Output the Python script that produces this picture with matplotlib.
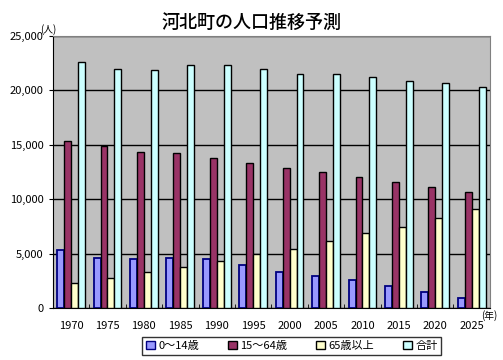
import matplotlib.pyplot as plt
import matplotlib.patches as mpatches
import numpy as np

plt.rcParams['font.family'] = ['Noto Sans CJK JP', 'DejaVu Sans']

years = ['1970', '1975', '1980', '1985', '1990', '1995', '2000', '2005',
         '2010', '2015', '2020', '2025']
age_0_14 = [5330, 4570, 4470, 4570, 4470, 3920, 3280, 3000, 2570, 2080, 1440, 890]
age_15_64 = [15350, 14890, 14310, 14220, 13800, 13300, 12840, 12470, 12040, 11550, 11100, 10630]
age_65 = [2270, 2730, 3280, 3740, 4300, 4960, 5480, 6160, 6900, 7500, 8240, 9070]
total = [22580, 21940, 21850, 22330, 22300, 21940, 21480, 21480, 21200, 20900, 20650, 20280]
labels = ['0～14歳', '15～64歳', '65歳以上', '合計']

fills = ['#9999FF', '#993366', '#FFFFCC', '#CCFFFF']
edges = ['#000080', '#000000', '#000000', '#000000']

fig = plt.figure(figsize=(5.03, 3.6), dpi=100)
ax = fig.add_axes([0.105, 0.144, 0.869, 0.756])
ax.set_facecolor('#C0C0C0')

x = np.arange(len(years))
w = 0.19
series = [age_0_14, age_15_64, age_65, total]
for i, vals in enumerate(series):
    ax.bar(x + (i - 1.5) * w, vals, w, color=fills[i], edgecolor=edges[i],
           linewidth=1.3 if i == 0 else 1.0, zorder=3)

ax.set_xlim(-0.5, len(years) - 0.5)
ax.set_ylim(0, 25000)
ax.set_yticks(np.arange(0, 25001, 5000))
ax.set_yticklabels(['0', '5,000', '10,000', '15,000', '20,000', '25,000'], fontsize=8)
ax.yaxis.grid(True, color='black', linewidth=1.0, zorder=1)
ax.set_xticks(x)
ax.set_xticklabels(years, fontsize=8)
ax.set_xticks(np.arange(-0.5, len(years), 1), minor=True)
ax.tick_params(axis='x', which='major', length=0, pad=9)
ax.tick_params(axis='x', which='minor', length=3, direction='in')
ax.tick_params(axis='y', length=3, direction='out')
for s in ['top', 'right']:
    ax.spines[s].set_color('#808080')
for s in ['left', 'bottom']:
    ax.spines[s].set_color('black')

fig.text(0.5, 0.937, '河北町の人口推移予測', ha='center', va='center',
         fontsize=13, fontweight='medium')
fig.text(0.095, 0.918, '(人)', ha='center', va='center', fontsize=7)
fig.text(0.972, 0.124, '(年)', ha='center', va='center', fontsize=7)

handles = [mpatches.Patch(facecolor=fills[i], edgecolor=edges[i], label=labels[i])
           for i in range(4)]
leg = fig.legend(handles=handles, loc='center', bbox_to_anchor=(0.58, 0.04),
                 ncol=4, fontsize=8, frameon=True, fancybox=False,
                 handlelength=0.8, handleheight=0.8, handletextpad=0.3,
                 columnspacing=2.6, borderpad=0.35)
leg.get_frame().set_edgecolor('black')
leg.get_frame().set_linewidth(1.0)

fig.savefig('out.png', dpi=100)
